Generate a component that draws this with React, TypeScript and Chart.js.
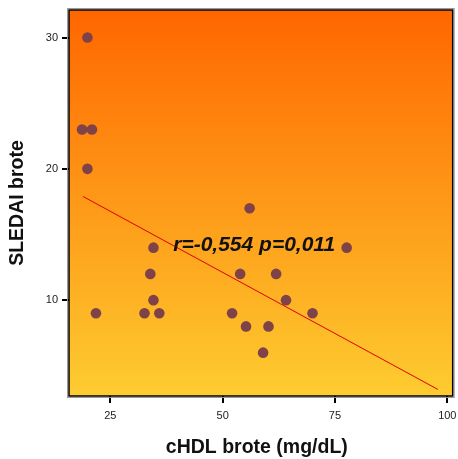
import React, { useEffect, useRef } from "react";
import { Chart, registerables } from "chart.js";

Chart.register(...registerables);

const hdlValues = [19.9, 18.7, 20.9, 19.9, 56, 34.6, 33.9, 34.6, 21.8, 32.6, 35.9, 52.1, 77.6, 53.9, 61.9, 64.1, 70, 55.2, 60.2, 59];
const sledaiValues = [30, 23, 23, 20, 17, 14, 12, 10, 9, 9, 9, 9, 14, 12, 12, 10, 9, 8, 8, 6];
const fitX = [18.9, 97.9];
const fitY = [17.9, 3.2];
const xTicks = [25, 50, 75, 100];
const yTicks = [10, 20, 30];
const statsLabel = "r=-0,554 p=0,011";
const xTitle = "cHDL brote (mg/dL)";
const yTitle = "SLEDAI brote";

const W = 458;
const H = 459;
const LEFT = 69;
const TOP = 10;
const RIGHT = 455;
const BOTTOM = 396;

const decor = {
  id: "decor",
  beforeDatasetsDraw(chart: any) {
    const { ctx, chartArea: a } = chart;
    ctx.save();
    const g = ctx.createLinearGradient(0, a.top, 0, a.bottom);
    g.addColorStop(0, "#FF6600");
    g.addColorStop(1, "#FDCC30");
    ctx.fillStyle = g;
    ctx.fillRect(a.left, a.top, a.right - a.left, a.bottom - a.top);
    ctx.restore();
  },
  afterDraw(chart: any) {
    const { ctx, chartArea: a, scales } = chart;
    ctx.save();
    ctx.strokeStyle = "#999";
    ctx.lineWidth = 1;
    ctx.strokeRect(a.left - 1.5, a.top - 1.5, a.right - a.left + 3, a.bottom - a.top + 3);
    ctx.strokeStyle = "#000";
    ctx.lineWidth = 1.5;
    ctx.strokeRect(a.left, a.top, a.right - a.left, a.bottom - a.top);
    // stats text
    ctx.fillStyle = "#111";
    ctx.font = "italic bold 21px 'Liberation Sans', Arial, sans-serif";
    ctx.textAlign = "left";
    ctx.textBaseline = "middle";
    ctx.fillText(statsLabel, scales.x.getPixelForValue(39.0), scales.y.getPixelForValue(14.2));
    // titles
    ctx.font = "bold 19.5px 'Liberation Sans', Arial, sans-serif";
    ctx.textAlign = "center";
    ctx.fillStyle = "#111";
    ctx.fillText(xTitle, (a.left + a.right) / 2 - 4, 448);
    ctx.translate(18, (a.top + a.bottom) / 2);
    ctx.rotate(-Math.PI / 2);
    ctx.fillText(yTitle, 0, 0);
    ctx.restore();
  },
};

export default function App() {
  const ref = useRef<HTMLCanvasElement>(null);
  useEffect(() => {
    const chart = new Chart(ref.current!, {
      type: "scatter",
      data: {
        datasets: [
          {
            type: "line",
            data: fitX.map((x, i) => ({ x, y: fitY[i] })),
            borderColor: "#E00000",
            borderWidth: 1,
            pointRadius: 0,
            fill: false,
          } as any,
          {
            data: hdlValues.map((x, i) => ({ x, y: sledaiValues[i] })),
            backgroundColor: "#7E4248",
            borderColor: "#7E4248",
            pointRadius: 5.3,
            borderWidth: 0,
          },
        ],
      },
      options: {
        animation: false,
        responsive: false,
        layout: { padding: { top: TOP, right: W - RIGHT, left: 0, bottom: 0 } },
        plugins: { legend: { display: false }, tooltip: { enabled: false } },
        scales: {
          x: {
            type: "linear",
            min: 15.8,
            max: 101.2,
            afterBuildTicks: (s: any) => { s.ticks = xTicks.map((v) => ({ value: v })); },
            afterFit: (s: any) => { s.height = H - BOTTOM; s.paddingLeft = 0; s.paddingRight = 0; },
            grid: { drawOnChartArea: false, tickLength: 7, tickColor: "#000", lineWidth: 2 },
            border: { display: false },
            ticks: { color: "#222", font: { family: "'Liberation Sans', Arial", size: 11 }, padding: 6, maxRotation: 0 },
          },
          y: {
            type: "linear",
            min: 2.7,
            max: 32.1,
            afterBuildTicks: (s: any) => { s.ticks = yTicks.map((v) => ({ value: v })); },
            afterFit: (s: any) => { s.width = LEFT; s.paddingTop = 0; s.paddingBottom = 0; },
            grid: { drawOnChartArea: false, tickLength: 7, tickColor: "#000", lineWidth: 2 },
            border: { display: false },
            ticks: { color: "#222", font: { family: "'Liberation Sans', Arial", size: 11 }, padding: 4 },
          },
        },
      },
      plugins: [decor],
    });
    return () => chart.destroy();
  }, []);
  return (
    <div style={{ position: "fixed", left: 0, top: 0, width: W, height: H, background: "#fff" }}>
      <canvas ref={ref} width={W} height={H} style={{ width: W, height: H }} />
    </div>
  );
}
